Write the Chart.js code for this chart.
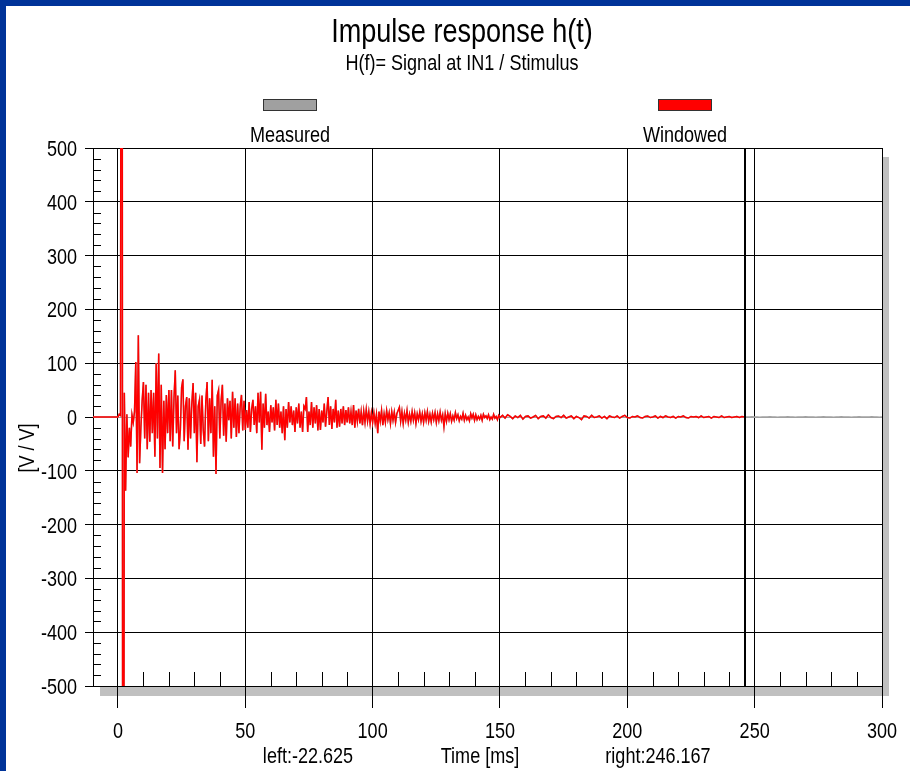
<!DOCTYPE html>
<html>
<head>
<meta charset="utf-8">
<script src="https://cdn.jsdelivr.net/npm/chart.js@4.4.1/dist/chart.umd.min.js"></script>
<style>
  html, body { margin: 0; padding: 0; background: #003399; }
  body { width: 910px; height: 771px; overflow: hidden; position: relative; }
  #wrap { position: absolute; left: 6px; top: 6px; width: 904px; height: 765px; background: #fff; }
</style>
</head>
<body>
<div id="wrap"><canvas id="grafico" width="904" height="765"></canvas></div>
<script>
// signal h(t), values in V/V
const tPre = -22.625;          // window left edge
const tEnd = 246.167;          // window right edge
const earlyStep = 0.5;         // 0 .. 50 ms
const early = [0,5,3,2400,-2200,45,-137,5,-75,-20,-55,4,-10,10,102,-104,152,-86,-20,30,
  65,-40,60,-60,45,-46,50,-30,45,-74,100,-40,118,-95,60,-104,
  30,-60,41,-30,50,-45,50,-55,35,87,-30,40,-60,-24,55,70,-45,20,37,-61,35,-40,25,63,
  -30,45,-84,20,32,-50,40,-25,-55,30,65,-45,35,-30,69,-74,20,-106,40,50,-40,30,60,-35,
  25,-46,35,-6,30,-40,47,-20,35,-37,25,-30,20,41,-25,30,-24];
const midStep = 0.5;           // 50.5 .. 150 ms
const mid = [13,-20,28,-28,15,32,-15,20,-30,45,-10,47,-61,25,-20,43,-15,10,-28,22,
  -10,18,-25,32,-15,25,-20,10,-30,20,-43,15,-20,28,-10,20,-15,12,-28,18,
  -12,25,-20,10,-28,20,15,37,-28,10,-15,28,-20,18,-12,22,-25,15,-24,12,
  -10,25,-18,10,37,-15,20,-22,15,-10,32,-20,12,-18,15,-12,20,-15,13,-10,
  18,-12,10,-15,22,-20,12,-8,15,-12,10,-15,11,-10,14,-8,10,-12,8,-10,
  8,-12,5,-30,10,-8,12,-15,6,-10,12,-5,8,-12,10,-6,9,-10,6,12,
  18,-8,10,-12,7,-6,12,-10,5,-8,10,-6,8,-12,6,-5,9,-8,6,-10,
  8,-6,10,-8,5,-9,7,-5,8,-10,6,-7,9,-6,4,-18,6,-8,7,-5,
  6,-8,2,-6,8,-3,4,-7,1,-4,7,-6,3,-5,0,-7,6,-2,5,-6,
  4,-5,1,-4,3,-6,5,-1,2,-3,4,-5,0,-4,5,-2,1,-5,3,-1];
const lateStep = 1;            // 151 .. 246 ms
const late = [3,-2,4,1,-3,2,-1,3,-4,1,
  2,-2,0,3,-3,1,2,-2,4,-1,
  -3,1,2,-1,3,-2,0,2,-3,1,
  -1,-5,2,1,-2,3,-1,0,2,-2,
  1,-3,2,0,-1,2,-2,1,3,-1,
  -2,1,0,2,-1,-2,1,2,-1,0,
  2,-2,1,-1,2,0,-1,1,-2,1,
  0,2,-1,-2,1,0,1,-1,2,-1,
  0,1,-2,1,0,-1,2,-1,0,1,
  -1,0,1,-1,1,0];
const tailStep = 1;            // 247 .. 300 ms, measured only
const tail = [0,0,0.5,0,0,-0.5,0,0,0,0.5,0,0,-0.5,0,0,0,0.5,0,0,-0.5,
  0,0,0,0.5,0,0,0,-0.5,0,0,0.5,0,0,0,-0.5,0,0,0.5,0,0,
  0,-0.5,0,0,0.5,0,0,0,0,0.5,0,0,-0.5,0];

const xTicks = [0, 50, 100, 150, 200, 250, 300];
const yTicks = [-500, -400, -300, -200, -100, 0, 100, 200, 300, 400, 500];

const FONT = "'Liberation Sans', Arial, sans-serif";
const NARROW = 0.82;

const serie = (start, step, vals) => vals.map((v, i) => ({ x: start + i * step, y: v }));

const ventana = [{ x: tPre, y: 0 }]
  .concat(serie(0, earlyStep, early))
  .concat(serie(50.5, midStep, mid))
  .concat(serie(151, lateStep, late))
  .concat([{ x: tEnd, y: 0.5 }]);
const medida = ventana.slice(0, -1).concat(serie(247, tailStep, tail));

// Arial Narrow look: Liberation Sans squeezed horizontally
function texto(ctx, str, x, y, size, align) {
  ctx.save();
  ctx.translate(x, y);
  ctx.scale(NARROW, 1);
  ctx.font = size + 'px ' + FONT;
  ctx.textAlign = align || 'center';
  ctx.fillText(str, 0, 0);
  ctx.restore();
}

const extras = {
  id: 'extras',
  beforeDraw(chart) {
    const { ctx, chartArea: a } = chart;
    ctx.save();
    ctx.fillStyle = '#c0c0c0';
    ctx.fillRect(a.left + 7, a.bottom, a.right - a.left, 10);
    ctx.fillRect(a.right, a.top + 9, 7, a.bottom - a.top + 1);
    ctx.restore();
  },
  afterDraw(chart) {
    const { ctx, chartArea: a, scales } = chart;
    const x = scales.x, y = scales.y;
    ctx.save();
    ctx.strokeStyle = '#000';
    ctx.lineWidth = 1;
    ctx.beginPath();
    // minor ticks
    for (let v = -480; v < 500; v += 20) {
      if (v % 100 === 0) continue;
      const py = Math.round(y.getPixelForValue(v)) + 0.5;
      ctx.moveTo(a.left, py); ctx.lineTo(a.left + 8, py);
    }
    for (let v = 10; v < 300; v += 10) {
      if (v % 50 === 0) continue;
      const px = Math.round(x.getPixelForValue(v)) + 0.5;
      ctx.moveTo(px, a.bottom); ctx.lineTo(px, a.bottom - 14);
    }
    ctx.stroke();
    // window right edge
    ctx.lineWidth = 2;
    ctx.beginPath();
    const pw = Math.round(x.getPixelForValue(tEnd));
    ctx.moveTo(pw, a.top); ctx.lineTo(pw, a.bottom);
    ctx.stroke();

    ctx.fillStyle = '#000';
    ctx.textBaseline = 'alphabetic';
    // tick labels
    yTicks.forEach(v => texto(ctx, String(v), 71, y.getPixelForValue(v) + 8, 22, 'right'));
    xTicks.forEach(v => texto(ctx, String(v), x.getPixelForValue(v), 732, 22, 'center'));

    texto(ctx, 'Impulse response h(t)', 456, 36, 33);
    texto(ctx, 'H(f)= Signal at IN1 / Stimulus', 456, 64, 22);

    // legend
    ctx.lineWidth = 1;
    ctx.strokeStyle = '#333';
    ctx.fillStyle = '#a0a0a0';
    ctx.fillRect(257, 93, 54, 12); ctx.strokeRect(257.5, 93.5, 53, 11);
    ctx.fillStyle = '#ff0000';
    ctx.fillRect(652, 93, 54, 12); ctx.strokeRect(652.5, 93.5, 53, 11);
    ctx.fillStyle = '#000';
    texto(ctx, 'Measured', 284, 136, 22);
    texto(ctx, 'Windowed', 679, 136, 22);

    texto(ctx, 'left:-22.625', 302, 757, 22);
    texto(ctx, 'Time [ms]', 474, 757, 22);
    texto(ctx, 'right:246.167', 652, 757, 22);

    ctx.translate(22, 442);
    ctx.rotate(-Math.PI / 2);
    ctx.textBaseline = 'middle';
    texto(ctx, '[V / V]', 0, 0, 22);
    ctx.restore();
  }
};

Chart.defaults.color = 'rgba(0,0,0,0)';

new Chart(document.getElementById('grafico'), {
  type: 'line',
  data: {
    datasets: [{
      label: 'Windowed',
      data: ventana,
      borderColor: '#ff0000',
      borderWidth: 1.5,
      pointRadius: 0,
      tension: 0,
      clip: 0,
      order: 1
    }, {
      label: 'Measured',
      data: medida,
      borderColor: '#a0a0a0',
      borderWidth: 1.5,
      pointRadius: 0,
      tension: 0,
      clip: 0,
      order: 2
    }]
  },
  options: {
    responsive: false,
    animation: false,
    layout: { padding: { top: 142, right: 28, bottom: 0, left: 0 } },
    plugins: { legend: { display: false }, title: { display: false }, tooltip: { enabled: false } },
    scales: {
      x: {
        type: 'linear',
        min: -9.8,
        max: 300,
        afterFit: s => { s.height = 85; },
        afterBuildTicks: s => { s.ticks = xTicks.map(v => ({ value: v })); },
        ticks: { includeBounds: false, padding: 4, maxRotation: 0, autoSkip: false, font: { size: 14 } },
        grid: { color: '#000', tickColor: '#000', tickLength: 22, lineWidth: 1 },
        border: { color: '#000' }
      },
      y: {
        min: -500,
        max: 500,
        afterFit: s => { s.width = 87; },
        afterBuildTicks: s => { s.ticks = yTicks.map(v => ({ value: v })); },
        ticks: { padding: 8, autoSkip: false, font: { size: 14 } },
        grid: {
          color: c => (c.tick && c.tick.value === 0 ? '#a0a0a0' : '#000'),
          tickColor: '#000', tickLength: 8, lineWidth: 1
        },
        border: { color: '#000' }
      }
    }
  },
  plugins: [extras]
});
</script>
</body>
</html>
